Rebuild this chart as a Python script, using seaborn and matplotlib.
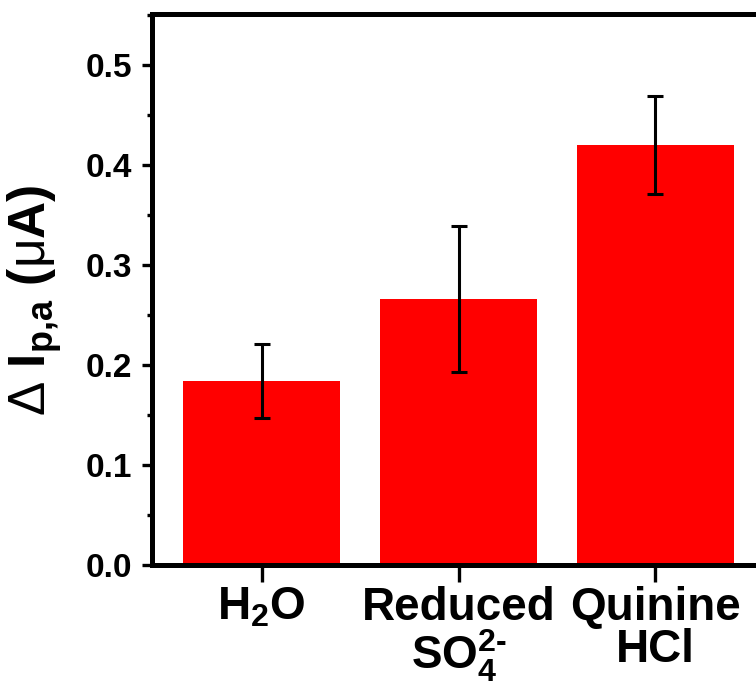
import matplotlib
matplotlib.use("Agg")
import matplotlib.pyplot as plt
import seaborn as sns
import pandas as pd
from matplotlib.ticker import MultipleLocator

categories = [r"H$_2$O", "Reduced\nSO$_4^{\\text{2-}}$", "Quinine\nHCl"]
values = [0.184, 0.266, 0.420]
errors = [0.037, 0.073, 0.049]

sns.set_style("ticks")
plt.rcParams["font.family"] = ["Liberation Sans", "DejaVu Sans"]
plt.rcParams["font.weight"] = "bold"
plt.rcParams["mathtext.fontset"] = "custom"
plt.rcParams["mathtext.rm"] = "Liberation Sans:bold"
plt.rcParams["mathtext.sf"] = "Liberation Sans:normal"
plt.rcParams["mathtext.bf"] = "Liberation Sans:bold"
plt.rcParams["mathtext.default"] = "regular"
for k in ["text.color", "axes.labelcolor", "xtick.color", "ytick.color",
          "axes.edgecolor"]:
    plt.rcParams[k] = "black"

df = pd.DataFrame({"cat": categories, "val": values})

fig = plt.figure(figsize=(7.56, 6.83), dpi=100)
ax = fig.add_axes([152/756, 1-565/683, (765-152)/756, (565-14)/683])

sns.barplot(data=df, x="cat", y="val", color="#FF0000", saturation=1,
            width=0.8, errorbar=None, ax=ax, edgecolor="none", linewidth=0)
ax.errorbar(range(len(values)), values, yerr=errors, fmt="none",
            ecolor="black", elinewidth=2.2, capsize=5.5, capthick=2.2)

ax.set_xlim(-0.556, 2.556)
ax.set_ylim(0, 0.551)
ax.yaxis.set_major_locator(MultipleLocator(0.1))
ax.yaxis.set_minor_locator(MultipleLocator(0.05))
ax.set_yticks([0.0, 0.1, 0.2, 0.3, 0.4, 0.5])
ax.set_yticklabels(["0.0", "0.1", "0.2", "0.3", "0.4", "0.5"])

for s in ax.spines.values():
    s.set_linewidth(3.6)
    s.set_color("black")
ax.tick_params(axis="y", which="major", direction="out", length=7, width=2.4,
               labelsize=24, pad=7.5, colors="black")
ax.tick_params(axis="y", which="minor", direction="out", length=3.5, width=2.4,
               colors="black")
ax.tick_params(axis="x", which="major", direction="out", length=12, width=2.4,
               labelsize=33, pad=3, colors="black")
for lab in ax.get_yticklabels():
    lab.set_fontweight("bold")
for lab in ax.get_xticklabels():
    lab.set_fontweight("bold")
    lab.set_linespacing(0.95)

ax.set_xlabel("")
ax.set_ylabel(r"$\mathsf{\Delta}$ $I_{\text{p,a}}$ ($\mathsf{\mu}$A)", fontsize=37,
              fontweight="bold", color="black")
ax.yaxis.set_label_coords(-0.143, 0.48)

fig.savefig("out.png", dpi=100)
